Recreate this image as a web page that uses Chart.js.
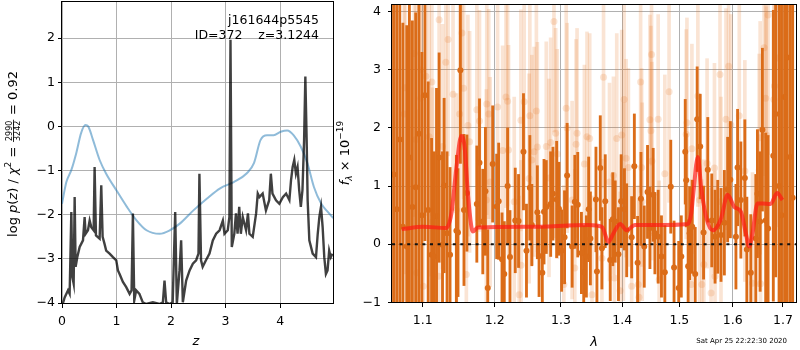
<!DOCTYPE html>
<html>
<head>
<meta charset="utf-8">
<script src="https://cdn.jsdelivr.net/npm/chart.js@4.4.0/dist/chart.umd.min.js"></script>
<style>
    html, body { margin: 0; padding: 0; background: #fff; }
    #wrap { position: relative; width: 800px; height: 350px; overflow: hidden; }
    canvas { position: absolute; top: 0; }
    #pz { left: 0; }
    #sp { left: 336px; }
</style>
</head>
<body>
<div id="wrap">
    <canvas id="pz" width="336" height="350"></canvas>
    <canvas id="sp" width="464" height="350"></canvas>
</div>
<script>
// ---- Panel izquierdo: log p(z) ----
const pzZ = [0.018, 0.049, 0.11, 0.14, 0.171, 0.19, 0.214, 0.232, 0.25, 0.28, 0.324, 0.385, 0.415, 0.433, 0.476, 0.507, 0.537, 0.58, 0.598, 0.623,
    0.69, 0.72, 0.745, 0.78, 0.81, 0.873, 0.934, 0.995, 1.026, 1.056, 1.117, 1.178, 1.24, 1.276, 1.30, 1.325, 1.36, 1.42, 1.48, 1.545,
    1.667, 1.79, 1.85, 1.88, 1.91, 1.97, 2.03, 2.076, 2.106, 2.155, 2.185, 2.216, 2.277, 2.34, 2.40, 2.46, 2.503, 2.52, 2.55, 2.58,
    2.64, 2.705, 2.766, 2.827, 2.89, 2.95, 2.98, 3.04, 3.07, 3.09, 3.114, 3.16, 3.19, 3.22, 3.25, 3.28, 3.315, 3.376, 3.41, 3.437,
    3.498, 3.56, 3.59, 3.62, 3.68, 3.74, 3.80, 3.83, 3.86, 3.925, 3.986, 4.05, 4.11, 4.17, 4.20, 4.23, 4.26, 4.29, 4.32, 4.35,
    4.38, 4.41, 4.44, 4.463, 4.487, 4.505, 4.536, 4.597, 4.658, 4.69, 4.72, 4.75, 4.78, 4.81, 4.84, 4.87, 4.90, 4.93, 4.96];
const pzLogP = [-4.0, -3.87, -3.71, -3.79, -1.94, -3.41, -3.56, -1.60, -3.18, -2.96, -2.73, -2.58, -2.05, -2.43, -2.35, -2.13, -2.28, -2.35, -0.92, -2.47,
    -2.54, -1.33, -2.50, -2.66, -2.81, -2.88, -2.96, -3.03, -3.26, -3.34, -3.52, -3.64, -3.79, -3.71, -1.97, -3.94, -3.71, -3.79, -3.98, -4.02,
    -3.98, -4.02, -3.98, -3.49, -3.98, -4.02, -3.98, -1.94, -4.02, -3.26, -2.58, -3.98, -3.49, -3.26, -3.11, -3.03, -2.88, -1.07, -3.03, -3.18,
    -3.03, -2.88, -2.58, -2.43, -2.35, -2.13, -2.43, -2.35, -2.05, 1.96, -2.73, -2.43, -1.97, -2.43, -1.82, -2.43, -2.05, -2.35, -1.97, -2.43,
    -2.50, -1.97, -1.52, -1.60, -1.52, -1.90, -1.67, -1.07, -1.52, -1.67, -1.75, -1.60, -1.52, -1.67, -1.22, -0.92, -0.76, -1.07, -0.92, -1.44,
    -1.82, -1.44, -0.31, 1.13, -0.31, -1.67, -2.58, -2.88, -2.96, -2.43, -2.05, -1.82, -2.28, -2.96, -3.34, -3.26, -2.81, -2.96, -2.88];

const priorZ = [0.0, 0.08, 0.17, 0.26, 0.35, 0.43, 0.48, 0.57, 0.69, 0.81, 1.0, 1.19, 1.37, 1.55, 1.79, 1.98, 2.16, 2.41, 2.66, 2.9,
    3.15, 3.39, 3.52, 3.64, 3.76, 3.88, 4.01, 4.13, 4.25, 4.38, 4.50, 4.62, 4.75, 4.87, 4.99];
const priorLogP = [-1.75, -1.26, -0.99, -0.61, -0.15, 0.03, 0.0, -0.31, -0.76, -1.07, -1.45, -1.82, -2.13, -2.35, -2.43, -2.35, -2.20, -1.90, -1.63, -1.40,
    -1.26, -1.06, -0.83, -0.31, -0.20, -0.20, -0.12, -0.09, -0.20, -0.46, -0.83, -1.37, -1.74, -1.93, -2.09];

const pzXTicks = [0, 1, 2, 3, 4];
const pzYTicks = [-4, -3, -2, -1, 0, 1, 2];

// ---- Panel derecho: espectro ----
const darkLam = [1.062, 1.066, 1.070, 1.074, 1.0791, 1.0825, 1.0864, 1.0908, 1.095, 1.099,
    1.1030, 1.1074, 1.1119, 1.1154, 1.1186, 1.1221, 1.1267, 1.1289, 1.1329, 1.1370, 1.1458, 1.1480, 1.1513, 1.1563, 1.1604,
    1.1744, 1.1782, 1.1829, 1.1867, 1.1900, 1.1971, 1.2029, 1.2058, 1.2107, 1.2140, 1.2189, 1.2224, 1.2302, 1.2351, 1.2425,
    1.2470, 1.2521, 1.2551, 1.2635, 1.2661, 1.2711, 1.2737, 1.2772, 1.2840, 1.2875, 1.2933, 1.2969, 1.3011, 1.3057, 1.3098,
    1.3177, 1.3220, 1.3267, 1.3326, 1.3363, 1.3406, 1.3443, 1.3471, 1.3562, 1.3578, 1.3633, 1.3660, 1.3715, 1.3798, 1.3841,
    1.3881, 1.3936, 1.3981, 1.4037, 1.4075, 1.4160, 1.4206, 1.4262, 1.4320, 1.4377, 1.4434, 1.4476, 1.4533, 1.4563, 1.4621,
    1.4679, 1.4739, 1.4845, 1.4904, 1.4988, 1.5035, 1.5107, 1.5125, 1.5160, 1.5187, 1.5235, 1.5290, 1.5326, 1.5382, 1.5445,
    1.5524, 1.5599, 1.5661, 1.5712, 1.5774, 1.5838, 1.5901, 1.5953, 1.6061, 1.6093, 1.6157, 1.6235, 1.6274, 1.6352, 1.6451,
    1.6484, 1.6538, 1.6583, 1.6649, 1.6697, 1.6803, 1.6850, 1.6920, 1.6970, 1.7033, 1.7088, 1.7150, 1.7200];
const darkFlux = [1.2, 0.6, 1.8, 0.3, -0.04, 1.49, 0.64, 0.98, 1.9, 0.5,
    2.56, 0.59, -0.18, -0.21, 0.48, 1.49, -0.01, 1.01, 0.19, -0.18, 0.23, 0.20, 2.99, 0.59, 0.88,
    0.69, 1.40, 0.39, 0.91, -0.75, 1.38, 0.65, 0.74, -0.26, -0.51, 1.00, -0.22, 0.41, 0.40, 1.59,
    -0.11, 0.97, 0.33, 0.55, -0.20, -0.49, 0.56, 0.64, 0.69, 0.87, 0.77, 0.61, -0.11, 0.12, 1.18,
    -0.04, 0.73, 0.68, -0.15, -0.48, -0.21, 0.60, 0.10, 0.77, -0.47, 1.31, -0.07, 0.74, -0.27, 0.43,
    0.39, -0.17, 0.74, 0.60, 0.24, 0.12, 1.34, -0.32, 0.78, -0.04, 0.90, 0.28, 0.85, 0.19, 0.13,
    -0.21, -0.48, 0.99, -0.40, -0.75, -0.21, 1.59, 1.10, -0.38, 0.19, 0.30, -0.51, 2.15, 1.68, 0.20,
    1.28, 0.41, 0.13, 0.30, 0.16, 0.37, 0.94, 1.11, 0.13, 1.32, 0.76, 1.14, -0.09, -0.49, 0.10,
    0.87, 0.39, 1.97, 0.41, 0.27, 1.52, 2.24, 1.0, 0.5, 2.53, 3.21, 1.5, 0.8];
const darkErr = [4.5, 4.0, 4.2, 3.5, 3.8, 3.5, 3.2, 3.0, 3.2, 2.8,
    2.5, 2.2, 2.0, 1.8, 2.2, 1.8, 1.6, 1.5, 1.4, 1.5, 1.3, 1.1, 1.6, 1.3, 1.0,
    1.0, 1.1, 0.9, 1.1, 1.0, 1.0, 0.9, 1.0, 0.8, 0.9, 1.0, 0.8, 0.9, 0.8, 1.0,
    0.8, 0.9, 0.7, 0.8, 0.7, 0.8, 0.9, 0.8, 0.9, 0.8, 1.0, 0.8, 0.7, 0.8, 0.9,
    0.7, 0.8, 0.9, 0.7, 0.8, 0.7, 0.9, 0.8, 0.9, 0.8, 0.9, 0.7, 0.8, 0.7, 0.8,
    0.7, 0.8, 0.8, 0.7, 0.8, 0.7, 0.9, 0.8, 0.8, 0.7, 0.8, 0.7, 0.8, 0.7, 0.8,
    0.7, 0.8, 0.8, 0.8, 0.8, 0.7, 0.9, 0.8, 0.8, 0.8, 0.8, 0.8, 0.9, 0.9, 0.8,
    0.9, 0.8, 0.8, 0.8, 0.8, 0.9, 0.9, 1.0, 0.9, 1.0, 1.0, 1.0, 0.9, 1.0, 1.1,
    1.1, 1.2, 1.4, 1.5, 1.6, 2.5, 2.8, 3.5, 4.0, 4.0, 4.5, 5.0, 5.0];

const lightLam = [1.0756, 1.0769, 1.0890, 1.0912, 1.0921, 1.0974, 1.0978, 1.1008, 1.1044, 1.1087, 1.1123, 1.1133, 1.1217, 1.1221, 1.1267,
    1.1312, 1.1343, 1.1411, 1.1458, 1.1503, 1.1535, 1.1558, 1.1596, 1.1618, 1.1642, 1.1744, 1.1782, 1.1880, 1.1886, 1.1914,
    1.1934, 1.2043, 1.2116, 1.2165, 1.2189, 1.2203, 1.2287, 1.2361, 1.2386, 1.2389, 1.2435, 1.2510, 1.2521, 1.2551, 1.2585,
    1.2620, 1.2635, 1.2772, 1.2814, 1.2840, 1.2891, 1.2917, 1.2942, 1.3046, 1.3083, 1.3098, 1.3177, 1.3220, 1.3240, 1.3256,
    1.3374, 1.3416, 1.3460, 1.3497, 1.3660, 1.3687, 1.3786, 1.3852, 1.3869, 1.3907, 1.3964, 1.3991, 1.4020, 1.4031, 1.4065,
    1.4104, 1.4160, 1.4274, 1.4286, 1.4314, 1.4331, 1.4342, 1.4476, 1.4493, 1.4504, 1.4510, 1.4621, 1.4638, 1.4739, 1.4815,
    1.5125, 1.5138, 1.5217, 1.5229, 1.5339, 1.5371, 1.5413, 1.5450, 1.5511, 1.5586, 1.5650, 1.5660, 1.5755, 1.5774, 1.5869,
    1.5920, 1.5964, 1.6126, 1.6235, 1.6386, 1.6518, 1.6538, 1.6545, 1.6617, 1.6649, 1.6663, 1.6697, 1.6814, 1.6826, 1.6895];
const lightFlux = [2.24, 2.69, 3.28, 1.80, -0.49, 2.51, 3.00, -0.72, 2.89, 1.85, 2.79, 0.39, -0.55, 3.86, 1.68,
    3.13, 3.52, 2.58, 0.59, 2.24, 3.63, 2.68, -0.52, 2.04, 1.76, 2.31, 2.12, 0.76, 2.41, 2.24,
    1.07, 2.36, 1.61, 2.53, 2.46, 1.62, 0.73, -0.87, 2.13, -0.36, 2.45, 1.13, 2.21, 1.45, 1.59,
    2.29, 1.67, 1.68, 1.14, 1.75, 3.83, 1.91, 1.55, -0.69, 2.34, 2.00, 0.76, -0.41, 1.72, 1.91,
    1.38, 1.85, 1.82, -0.87, -0.24, 2.87, 1.07, 1.18, -0.58, 1.82, -0.80, 1.88, 0.73, 2.49, 1.48,
    1.32, -0.72, -0.69, -0.91, 2.79, 1.32, 0.73, 2.14, 1.95, 3.26, 1.43, 2.15, -0.61, 1.21, 2.62,
    1.89, 2.09, -0.69, 1.64, 2.55, 0.76, -0.69, -0.35, 1.39, -0.84, 1.31, -0.55, 2.92, 0.73, 2.15,
    3.06, 2.05, 2.21, 1.26, -0.67, 1.27, 1.83, -0.68, 3.38, 2.51, 1.88, 3.94, 2.49, 2.72, 3.20];
const lightErr = [3.2, 3.2, 2.8, 3.0, 2.8, 2.6, 2.6, 2.5, 2.4, 2.4, 2.3, 2.3, 2.2, 2.2, 2.1,
    2.1, 2.0, 2.0, 2.0, 2.0, 2.0, 1.9, 1.9, 1.9, 1.9, 1.9, 1.9, 1.9, 1.9, 1.8,
    1.8, 1.8, 1.8, 1.9, 1.8, 1.8, 1.8, 1.7, 1.9, 1.8, 1.8, 1.8, 1.9, 1.8, 1.8,
    1.9, 1.8, 1.8, 1.7, 1.8, 1.9, 1.8, 1.8, 1.7, 1.8, 1.8, 1.7, 1.7, 1.8, 1.8,
    1.7, 1.8, 1.8, 1.7, 1.7, 1.9, 1.7, 1.7, 1.7, 1.8, 1.7, 1.8, 1.7, 1.8, 1.7,
    1.7, 1.7, 1.7, 1.7, 1.9, 1.7, 1.7, 1.8, 1.8, 1.9, 1.7, 1.8, 1.7, 1.7, 1.9,
    1.8, 1.8, 1.8, 1.8, 1.9, 1.8, 1.8, 1.8, 1.8, 1.8, 1.8, 1.8, 1.9, 1.8, 1.9,
    2.0, 1.9, 1.9, 1.9, 1.9, 2.0, 2.0, 2.0, 2.2, 2.2, 2.2, 2.4, 2.6, 2.6, 2.9];

const modelLam = [1.0726, 1.1008, 1.1316, 1.1389, 1.1458, 1.1526, 1.1572, 1.1618, 1.1688, 1.1758, 1.25, 1.3443,
    1.3660, 1.3770, 1.3852, 1.3964, 1.4075, 1.4217, 1.4563, 1.5155, 1.5217, 1.5249, 1.5339, 1.5400, 1.5493, 1.5618,
    1.5774, 1.5901, 1.6030, 1.6157, 1.6254, 1.6321, 1.6386, 1.6484, 1.6583, 1.6746, 1.6881, 1.6989];
const modelFlux = [0.26, 0.30, 0.28, 0.53, 1.32, 1.86, 1.67, 0.87, 0.22, 0.29, 0.30, 0.33,
    0.30, 0.04, 0.19, 0.35, 0.24, 0.33, 0.33, 0.35, 0.53, 0.81, 1.50, 0.98, 0.47, 0.24,
    0.44, 0.85, 0.64, 0.56, 0.19, -0.04, 0.19, 0.70, 0.70, 0.69, 0.88, 0.76];

const specXTicks = [1.1, 1.2, 1.3, 1.4, 1.5, 1.6, 1.7];
const specYTicks = [-1, 0, 1, 2, 3, 4];

const FONT = 'DejaVu Sans';
const DARK = 'rgb(219,108,24)';
const LIGHT = 'rgba(230,120,40,0.2)';

function minus(v) {
    return String(v).replace('-', '\u2212');
}

function axis(min, max, type, ticks, fmt, size, horizontal, pad) {
    return {
        type: type,
        min: min,
        max: max,
        offset: false,
        afterBuildTicks: a => { a.ticks = ticks.map(v => ({ value: v })); },
        afterFit: s => {
            if (horizontal) s.height = size; else s.width = size;
            s.paddingLeft = 0; s.paddingRight = 0; s.paddingTop = 0; s.paddingBottom = 0;
        },
        grid: { color: '#b0b0b0', lineWidth: 1, tickColor: '#000', tickLength: 4, offset: false },
        border: { display: false },
        ticks: {
            font: { family: FONT, size: 12.5 },
            color: '#000',
            padding: pad,
            maxRotation: 0,
            autoSkip: false,
            callback: fmt
        }
    };
}

// marco negro alrededor del área
const framePlugin = {
    id: 'frame',
    afterDraw(chart) {
        const { ctx, chartArea: a } = chart;
        ctx.save();
        ctx.strokeStyle = '#000';
        ctx.lineWidth = 1;
        ctx.strokeRect(Math.round(a.left) - 0.5, Math.round(a.top) + 0.5,
            Math.round(a.right - a.left) + 1, Math.round(a.bottom - a.top) - 1);
        ctx.restore();
    }
};

// texto con partes en cursiva, sub/superíndices y fracción
function drawRich(ctx, segs, cx, cy, rotate) {
    ctx.save();
    ctx.translate(cx, cy);
    if (rotate) ctx.rotate(-Math.PI / 2);
    ctx.fillStyle = '#000';
    ctx.textBaseline = 'alphabetic';
    const font = s => `${s.italic ? 'italic ' : ''}${s.size}px ${FONT}`;
    let total = 0;
    segs.forEach(s => {
        ctx.font = font(s);
        if (s.num) {
            s.w = Math.max(ctx.measureText(s.num).width, ctx.measureText(s.den).width) + 3;
        } else {
            s.w = ctx.measureText(s.t).width;
        }
        total += s.w;
    });
    let x = -total / 2;
    segs.forEach(s => {
        ctx.font = font(s);
        if (s.num) {
            ctx.textAlign = 'center';
            ctx.fillText(s.num, x + s.w / 2, -0.5);
            ctx.fillText(s.den, x + s.w / 2, 8);
            ctx.fillRect(x + 0.5, 1, s.w - 1, 0.8);
            ctx.textAlign = 'left';
        } else {
            ctx.textAlign = 'left';
            ctx.fillText(s.t, x, 5 + (s.dy || 0));
        }
        x += s.w;
    });
    ctx.restore();
}

const pzText = {
    id: 'pzText',
    afterDraw(chart) {
        const ctx = chart.ctx;
        ctx.save();
        ctx.fillStyle = '#000';
        ctx.font = `12.5px ${FONT}`;
        ctx.textAlign = 'right';
        ctx.fillText('j161644p5545', 319, 24);
        ctx.fillText('ID=372    z=3.1244', 319, 39);
        ctx.font = `italic 13px ${FONT}`;
        ctx.textAlign = 'center';
        ctx.fillText('z', 196, 345);
        ctx.restore();
        drawRich(ctx, [
            { t: 'log ', size: 13 },
            { t: 'p', size: 13, italic: true },
            { t: '(', size: 13 },
            { t: 'z', size: 13, italic: true },
            { t: ') / ', size: 13 },
            { t: '\u03c7', size: 13, italic: true },
            { t: '2', size: 9, dy: -6 },
            { t: ' = ', size: 13 },
            { num: '2990', den: '3242', size: 8 },
            { t: ' = 0.92', size: 13 }
        ], 12, 154, true);
    }
};

const spText = {
    id: 'spText',
    afterDraw(chart) {
        const ctx = chart.ctx;
        ctx.save();
        ctx.fillStyle = '#000';
        ctx.font = `italic 13px ${FONT}`;
        ctx.textAlign = 'center';
        ctx.fillText('\u03bb', 258, 346);
        ctx.font = `7px ${FONT}`;
        ctx.textAlign = 'right';
        ctx.fillText('Sat Apr 25 22:22:30 2020', 451, 343);
        ctx.restore();
        drawRich(ctx, [
            { t: 'f', size: 13, italic: true },
            { t: '\u03bb', size: 9, italic: true, dy: 3 },
            { t: ' \u00d7 10', size: 13 },
            { t: '\u221219', size: 9, dy: -6 }
        ], 8, 153, true);
    }
};

new Chart(document.getElementById('pz'), {
    type: 'scatter',
    data: {
        datasets: [
            {
                type: 'line',
                data: pzZ.map((z, i) => ({ x: z, y: pzLogP[i] })),
                borderColor: 'rgba(0,0,0,0.75)',
                borderWidth: 2.4,
                pointRadius: 0,
                showLine: true,
                tension: 0
            },
            {
                type: 'line',
                data: priorZ.map((z, i) => ({ x: z, y: priorLogP[i] })),
                borderColor: 'rgba(31,119,180,0.5)',
                borderWidth: 2,
                pointRadius: 0,
                showLine: true,
                cubicInterpolationMode: 'monotone'
            }
        ]
    },
    options: {
        responsive: false,
        animation: false,
        layout: { padding: { top: 1, right: 3, bottom: 0, left: 0 } },
        plugins: { legend: { display: false }, tooltip: { enabled: false } },
        scales: {
            x: axis(0, 4.97, 'linear', pzXTicks, v => minus(v), 46, true, 6),
            y: axis(-4.02, 2.84, 'linear', pzYTicks, v => minus(v), 62, false, 3)
        }
    },
    plugins: [framePlugin, pzText]
});

new Chart(document.getElementById('sp'), {
    type: 'scatter',
    data: {
        datasets: [
            {
                type: 'line',
                data: [{ x: 1.06, y: 0 }, { x: 1.727, y: 0 }],
                borderColor: '#111',
                borderWidth: 2,
                borderDash: [3, 4.6],
                pointRadius: 0,
                showLine: true
            },
            {
                type: 'line',
                data: modelLam.map((l, i) => ({ x: l, y: modelFlux[i] })),
                borderColor: 'rgba(255,25,20,0.7)',
                borderWidth: 4,
                pointRadius: 0,
                showLine: true,
                cubicInterpolationMode: 'monotone'
            },
            {
                data: darkLam.map((l, i) => ({ x: l, y: darkFlux[i] })),
                backgroundColor: DARK,
                pointRadius: 3,
                pointBorderWidth: 0
            },
            {
                type: 'bar',
                data: darkLam.map((l, i) => ({ x: l, y: [darkFlux[i] - darkErr[i], darkFlux[i] + darkErr[i]] })),
                backgroundColor: DARK,
                barThickness: 2.2,
                grouped: false,
                borderWidth: 0
            },
            {
                data: lightLam.map((l, i) => ({ x: l, y: lightFlux[i] })),
                backgroundColor: LIGHT,
                pointRadius: 3.5,
                pointBorderWidth: 0
            },
            {
                type: 'bar',
                data: lightLam.map((l, i) => ({ x: l, y: [lightFlux[i] - lightErr[i], lightFlux[i] + lightErr[i]] })),
                backgroundColor: LIGHT,
                barThickness: 3,
                grouped: false,
                borderWidth: 0
            }
        ]
    },
    options: {
        responsive: false,
        animation: false,
        layout: { padding: { top: 2, right: 1, bottom: 0, left: 0 } },
        plugins: { legend: { display: false }, tooltip: { enabled: false } },
        scales: {
            x: axis(1.06, 1.727, 'logarithmic', specXTicks, v => Number(v).toFixed(1), 47, true, 6),
            y: axis(-1.01, 4.13, 'linear', specYTicks, v => minus(v), 56, false, 7)
        }
    },
    plugins: [framePlugin, spText]
});
</script>
</body>
</html>
